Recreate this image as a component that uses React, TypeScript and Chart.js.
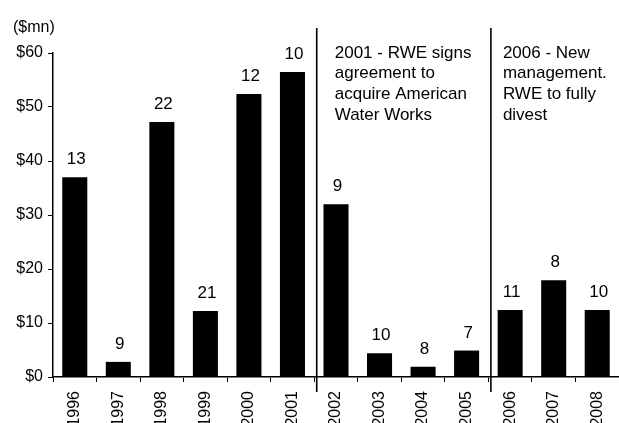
import React, { useEffect, useRef } from "react";
import { Chart, registerables } from "chart.js";

Chart.register(...registerables);

const years = ["1996", "1997", "1998", "1999", "2000", "2001", "2002", "2003", "2004", "2005", "2006", "2007", "2008"];
const values = [37, 2.8, 47.2, 12.2, 52.4, 56.5, 32, 4.4, 1.9, 4.9, 12.4, 17.9, 12.4];
const countLabels = ["13", "9", "22", "21", "12", "10", "9", "10", "8", "7", "11", "8", "10"];
const yTickLabels = ["$0", "$10", "$20", "$30", "$40", "$50", "$60"];
const unitLabel = "($mn)";
// annotations: after category index, text lines
const dividerAfter = [5, 9];
const noteLines1 = ["2001 - RWE signs", "agreement to", "acquire American", "Water Works"];
const noteLines2 = ["2006 - New", "management.", "RWE to fully", "divest"];

const FONT = "'Liberation Sans', Arial, sans-serif";

export default function App() {
  const ref = useRef<HTMLCanvasElement | null>(null);

  useEffect(() => {
    const canvas = ref.current;
    if (!canvas) return;

    const overlay = {
      id: "overlay",
      afterDatasetsDraw(chart: any) {
        const ctx = chart.ctx;
        const xs = chart.scales.x;
        const ys = chart.scales.y;
        const meta = chart.getDatasetMeta(0);
        ctx.save();
        ctx.fillStyle = "#000";
        ctx.font = `17px ${FONT}`;
        ctx.textAlign = "center";
        ctx.textBaseline = "alphabetic";
        meta.data.forEach((bar: any, i: number) => {
          ctx.fillText(countLabels[i], bar.x + 1.5, bar.y - 13);
        });

        // dividers
        const topY = ys.getPixelForValue(60);
        const bottomY = ys.getPixelForValue(0);
        const notes = [noteLines1, noteLines2];
        const offsets = [18, 12];
        dividerAfter.forEach((idx, k) => {
          const x = (xs.getPixelForValue(idx) + xs.getPixelForValue(idx + 1)) / 2 + 2.5;
          ctx.strokeStyle = "#000";
          ctx.lineWidth = 1.6;
          ctx.beginPath();
          ctx.moveTo(x, topY - 25);
          ctx.lineTo(x, bottomY + 15);
          ctx.stroke();
          ctx.textAlign = "left";
          notes[k].forEach((line, j) => {
            ctx.fillText(line, x + offsets[k], topY + 4.5 + j * 20.7);
          });
        });

        // unit label
        ctx.font = `16px ${FONT}`;
        ctx.textAlign = "left";
        ctx.fillText(unitLabel, chart.chartArea.left - 40, topY - 21);
        ctx.restore();
      },
    };

    const chart = new Chart(canvas, {
      type: "bar",
      data: {
        labels: years,
        datasets: [
          {
            data: values,
            backgroundColor: "#000",
            borderWidth: 0,
            barPercentage: 0.575,
            categoryPercentage: 1,
          },
        ],
      },
      options: {
        responsive: false,
        animation: false,
        devicePixelRatio: 1,
        layout: { padding: { top: 53, left: 0, right: 0, bottom: 0 } },
        plugins: { legend: { display: false }, tooltip: { enabled: false } },
        scales: {
          x: {
            grid: { display: true, drawOnChartArea: false, drawTicks: true, tickLength: 5, color: "#000", lineWidth: 1 },
            border: { display: true, color: "#000", width: 1.5 },
            ticks: {
              minRotation: 90,
              maxRotation: 90,
              autoSkip: false,
              padding: 9,
              color: "#000",
              font: { size: 16, family: FONT },
            },
            afterFit(scale: any) {
              scale.height = 46;
              scale.paddingLeft = 0;
              scale.paddingRight = 0;
            },
          },
          y: {
            min: 0,
            max: 60,
            grid: { display: true, drawOnChartArea: false, drawTicks: true, tickLength: 5, color: "#000", lineWidth: 1 },
            border: { display: true, color: "#000", width: 1.5 },
            ticks: {
              stepSize: 10,
              padding: 5,
              color: "#000",
              font: { size: 16, family: FONT },
              callback: (_v: any, i: number) => yTickLabels[i],
            },
            afterFit(scale: any) {
              scale.width = 53;
              scale.paddingTop = 0;
              scale.paddingBottom = 0;
            },
          },
        },
      },
      plugins: [overlay],
    });

    return () => chart.destroy();
  }, []);

  return (
    <div style={{ position: "fixed", left: 0, top: 0, width: 619, height: 423, overflow: "hidden", background: "#fff" }}>
      <canvas ref={ref} width={619} height={423} style={{ display: "block" }} />
    </div>
  );
}
